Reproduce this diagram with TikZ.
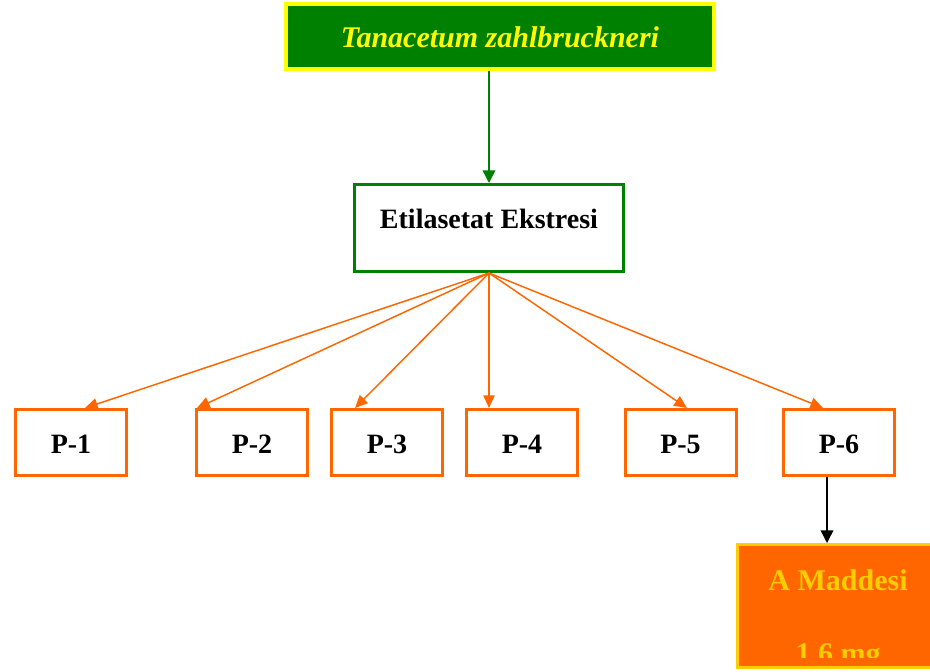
\documentclass[tikz,border=0pt]{standalone}
\usepackage{fontspec}
\setmainfont{Liberation Serif}
\usetikzlibrary{arrows.meta,calc}
\definecolor{kgreen}{HTML}{008000}
\definecolor{kyellow}{HTML}{FFFF00}
\definecolor{korange}{HTML}{FF6600}
\definecolor{kgold}{HTML}{FFCC00}
\begin{document}
\begin{tikzpicture}[x=0.75pt, y=-0.75pt,
  pbox/.style={draw=korange, line width=2.25pt, minimum width=83.25pt, minimum height=49.5pt, inner sep=0pt, text height=16pt, text depth=0pt, font=\bfseries\fontsize{21}{25}\selectfont},
  parrow/.style={korange, line width=1.1pt, -{Triangle[length=9.5pt,width=8.5pt]}}]
\clip (0,0) rectangle (930,671);
\node[draw=kyellow, fill=kgreen, line width=3pt, minimum width=321pt, minimum height=48.75pt, inner sep=0pt, text height=17pt, text depth=0pt, text=kyellow, font=\bfseries\itshape\fontsize{22.5}{27}\selectfont] (bitki) at (500,36.5){Tanacetum zahlbruckneri};
\node[draw=kgreen, line width=2.25pt, minimum width=201.75pt, minimum height=65.25pt, inner sep=0pt, text height=14pt, text depth=14pt, font=\bfseries\fontsize{21}{25}\selectfont] (ekstre) at (489,228){Etilasetat Ekstresi};
\draw[kgreen, line width=1.1pt, -{Triangle[length=9.5pt,width=9.5pt]}](bitki.south -| ekstre.north) -- (ekstre.north);
\node[pbox] (p1) at (71,442.5){P-1};
\node[pbox] (p2) at (252,442.5){P-2};
\node[pbox] (p3) at (387,442.5){P-3};
\node[pbox] (p4) at (522,442.5){P-4};
\node[pbox] (p5) at (680.5,442.5){P-5};
\node[pbox] (p6) at (839,442.5){P-6};
\draw[parrow](ekstre.south) -- ($(p1.north)+(14,0)$);
\draw[parrow](ekstre.south) -- ($(p2.north west)+(2,0)$);
\draw[parrow](ekstre.south) -- ($(p3.north)+(-32,0)$);
\draw[parrow](ekstre.south) -- ($(p4.north)+(-33,0)$);
\draw[parrow](ekstre.south) -- ($(p5.north)+(6.5,0)$);
\draw[parrow](ekstre.south) -- ($(p6.north)+(-16,0)$);
\node[draw=kgold, fill=korange, line width=2.25pt, minimum width=150.75pt, minimum height=92.25pt, inner sep=0pt] (madde) at (838,606){};
\draw[black, line width=1.1pt, -{Triangle[length=9.5pt,width=9.5pt]}]($(p6.south)+(-12,0)$) -- ($(madde.north)+(-11,0)$);
\begin{scope}
\clip (736,540) rectangle (940,657);
\node[text=kgold, anchor=base, inner sep=0pt, font=\bfseries\fontsize{22.5}{27}\selectfont] (maddeA) at (838,590){A Maddesi};
\node[text=kgold, anchor=base, inner sep=0pt, font=\bfseries\fontsize{22.5}{27}\selectfont] (maddeB) at (838,663){1,6 mg};
\end{scope}
\end{tikzpicture}
\end{document}
